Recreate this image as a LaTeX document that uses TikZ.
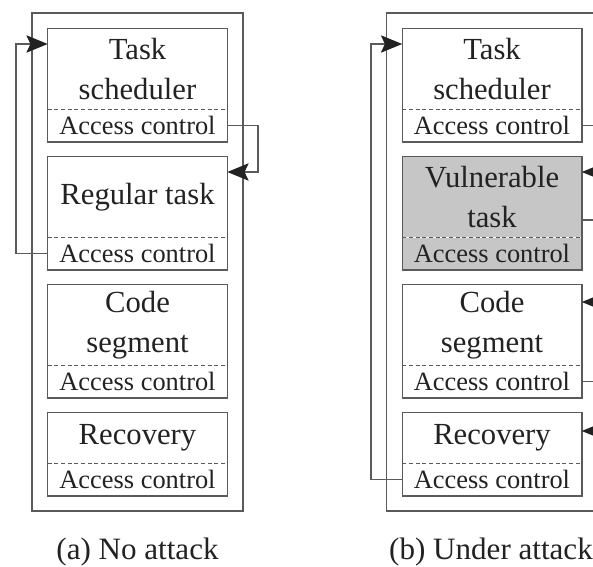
\documentclass[tikz,border=0pt]{standalone}
\usepackage{fontspec}
\setmainfont{Liberation Serif}
\usetikzlibrary{positioning,arrows.meta}

\definecolor{linegray}{HTML}{5A5A5A}
\definecolor{textgray}{HTML}{222222}
\definecolor{vulfill}{HTML}{C6C6C6}

\tikzset{
  title/.style={minimum width=134.25pt, minimum height=60pt, inner sep=0pt, align=center,
    text=textgray, font=\fontsize{23}{30}\selectfont},
  acc/.style={minimum width=134.25pt, minimum height=24pt, inner sep=0pt,
    text=textgray, font=\fontsize{19.8}{24}\selectfont},
  boxline/.style={draw=linegray, line width=1.1pt},
  divider/.style={draw=linegray, line width=0.8pt, dash pattern=on 3pt off 2pt},
  wire/.style={draw=linegray, line width=1.1pt},
  flow/.style={wire, arrows={-Stealth[length=16pt,width=13pt,inset=3pt,color=textgray]}},
  caption/.style={text=textgray, font=\fontsize{23.3}{28}\selectfont}
}

\begin{document}
\begin{tikzpicture}[x=0.75pt, y=-0.75pt]
  \useasboundingbox (0,0) rectangle (593,567);
  \clip (0,0) rectangle (593,567);

  % the two memory layouts
  \foreach \p/\cx/\midtext/\midfill in {A/137.5/{Regular task}/white, B/492/{Vulnerable\\task}/vulfill} {
    \draw[boxline] (\cx-105.5,13) rectangle (\cx+105.5,511);

    \node[title] (sched\p) at (\cx,69) {Task\\scheduler};
    \node[acc, below=0pt of sched\p] (sched\p-acc) {Access control};

    \node[title, fill=\midfill] (mid\p) at (\cx,197) {\midtext};
    \node[acc, fill=\midfill, below=0pt of mid\p] (mid\p-acc) {Access control};

    \node[title] (code\p) at (\cx,325) {Code\\segment};
    \node[acc, below=0pt of code\p] (code\p-acc) {Access control};

    \node[title, minimum height=37.5pt] (rec\p) at (\cx,438) {Recovery};
    \node[acc, below=0pt of rec\p] (rec\p-acc) {Access control};

    \foreach \b in {sched, mid, code, rec} {
      \draw[boxline] (\b\p.north west) rectangle (\b\p-acc.south east);
      \draw[divider] (\b\p.south west) -- (\b\p.south east);
    }
  }

  % (a) no attack
  \coordinate (loopA) at (16,44);
  \draw[flow] (midA-acc.west) -| (loopA) -- (loopA -| schedA.west);
  \coordinate (turnA) at (258,172);
  \draw[flow] (schedA-acc.east) -| (turnA) -- (turnA -| midA.east);

  % (b) under attack
  \coordinate (loopB) at (371,44);
  \draw[flow] (recB-acc.west) -| (loopB) -- (loopB -| schedB.west);
  \coordinate (edgeB) at (600,0);
  \coordinate (inMid) at (600,172);
  \coordinate (outMid) at (600,220);
  \coordinate (inCode) at (600,302);
  \coordinate (inRec) at (600,431);
  \draw[wire] (schedB-acc.east) -- (schedB-acc.east -| edgeB);
  \draw[flow] (inMid) -- (inMid -| midB.east);
  \draw[wire] (outMid -| midB.east) -- (outMid);
  \draw[flow] (inCode) -- (inCode -| codeB.east);
  \draw[wire] (codeB-acc.east) -- (codeB-acc.east -| edgeB);
  \draw[flow] (inRec) -- (inRec -| recB.east);

  \node[caption] (capA) at (137.5,552) {(a) No attack};
  \node[caption] (capB) at (491,552) {(b) Under attack};
\end{tikzpicture}
\end{document}
